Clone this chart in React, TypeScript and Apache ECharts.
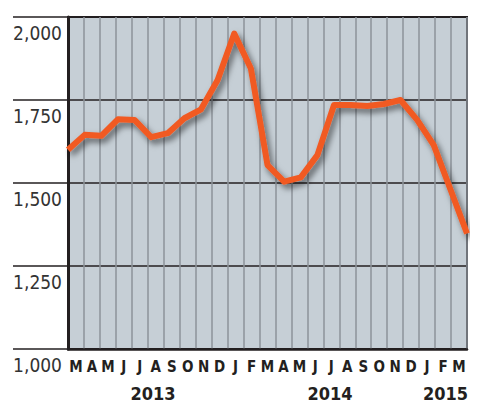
import React, { useEffect, useRef } from "react";
import * as echarts from "echarts";

const months = ["M","A","M","J","J","A","S","O","N","D","J","F","M","A","M","J","J","A","S","O","N","D","J","F","M"];
const dataMonths = ["Mar 2013","Apr 2013","May 2013","Jun 2013","Jul 2013","Aug 2013","Sep 2013","Oct 2013","Nov 2013","Dec 2013","Jan 2014","Feb 2014","Mar 2014","Apr 2014","May 2014","Jun 2014","Jul 2014","Aug 2014","Sep 2014","Oct 2014","Nov 2014","Dec 2014","Jan 2015","Feb 2015","Mar 2015"];
const values = [1600,1645,1642,1692,1690,1638,1650,1695,1722,1810,1950,1845,1554,1504,1517,1584,1735,1735,1732,1738,1750,1690,1614,1481,1348];
const yTicks = [1000, 1250, 1500, 1750, 2000];
const years = [
  { text: "2013", x: 153, align: "center" },
  { text: "2014", x: 330, align: "center" },
  { text: "2015", x: 468, align: "right" },
];

const FONT = "'DejaVu Sans Condensed', 'Liberation Sans Narrow', 'Roboto', sans-serif";

export default function App() {
  const ref = useRef<HTMLDivElement>(null);
  useEffect(() => {
    if (!ref.current) return;
    const chart = echarts.init(ref.current, null, { renderer: "svg" });
    chart.setOption({
      animation: false,
      backgroundColor: "#ffffff",
      grid: {
        left: 68, right: 33, top: 17, bottom: 64,
        show: true, backgroundColor: "#C6CFD6", borderColor: "#231f20", borderWidth: 2,
      },
      xAxis: [
        {
          type: "category", data: dataMonths, boundaryGap: false, show: false,
        },
        {
          type: "category", data: months, boundaryGap: true, position: "bottom",
          axisLine: { show: true, lineStyle: { color: "#231f20", width: 2.5 } },
          axisTick: { show: false },
          splitLine: { show: true, interval: 0, lineStyle: { color: "#8C939A", width: 1.5 } },
          axisLabel: {
            interval: 0, margin: 10, color: "#231f20", fontFamily: FONT, fontWeight: "bold", fontSize: 15,
          },
        },
      ],
      yAxis: {
        type: "value", min: 1000, max: 2000, interval: 250,
        axisLine: { show: true, lineStyle: { color: "#231f20", width: 3 } },
        axisTick: { show: true, length: 55, lineStyle: { color: "#231f20", width: 1.5 } },
        splitLine: { show: true, lineStyle: { color: "#231f20", width: 1.5 } },
        axisLabel: {
          margin: 6, color: "#333333", fontFamily: FONT, fontSize: 19, verticalAlign: "top",
          padding: [6, 0, 0, 0],
          formatter: (v: number) => (yTicks.includes(v) ? v.toLocaleString("en-US") : ""),
        },
      },
      graphic: years.map((y) => ({
        type: "text", x: y.x, y: 393,
        style: {
          text: y.text, fill: "#231f20", font: `bold 18px ${FONT}`,
          align: y.align, verticalAlign: "middle",
        },
      })),
      series: [
        {
          type: "line", xAxisIndex: 0, yAxisIndex: 0, data: values, symbol: "none", z: 5,
          lineStyle: {
            color: "#F15A24", width: 6, join: "round", cap: "butt",
            shadowColor: "rgba(0,0,0,0.55)", shadowBlur: 6, shadowOffsetX: 3, shadowOffsetY: 4,
          },
        },
      ],
    });
    return () => chart.dispose();
  }, []);
  return <div ref={ref} style={{ position: "fixed", left: 0, top: 0, width: 500, height: 413 }} />;
}
